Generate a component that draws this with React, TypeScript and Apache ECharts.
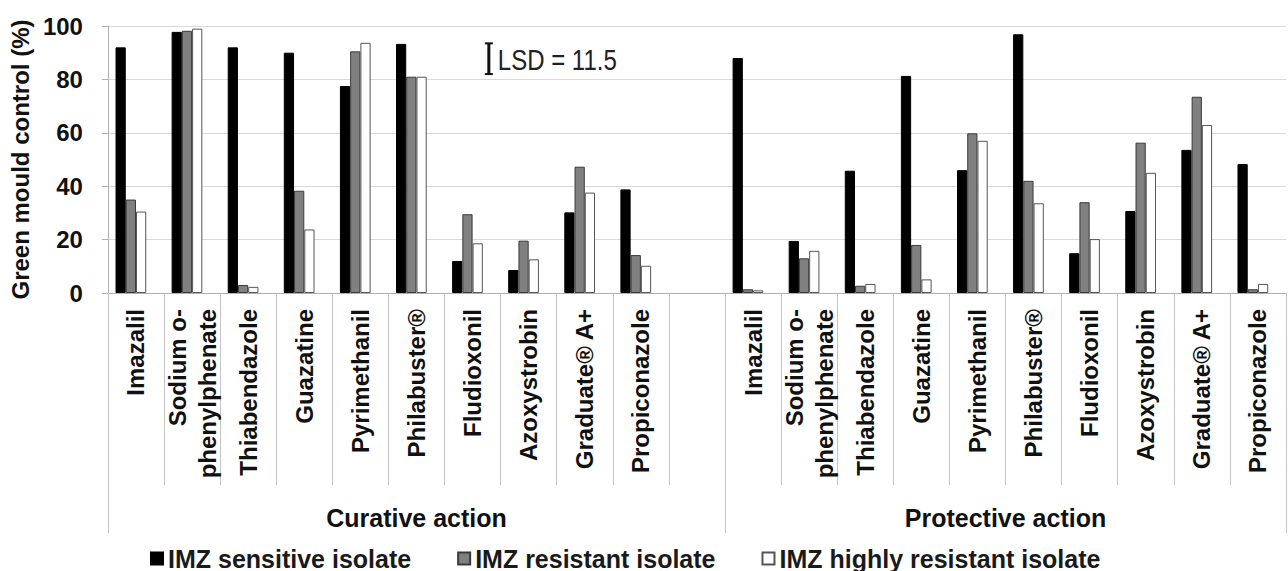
import React, { useEffect, useRef } from "react";
import * as echarts from "echarts";

const FONT = "'Liberation Sans', Arial, sans-serif";

const fungicides = [
  "Imazalil",
  "Sodium o-\nphenylphenate",
  "Thiabendazole",
  "Guazatine",
  "Pyrimethanil",
  "Philabuster®",
  "Fludioxonil",
  "Azoxystrobin",
  "Graduate® A+",
  "Propiconazole",
];

const groupNames = ["Curative action", "Protective action"];

// Curative action values
const curSensitive = [92, 97.8, 92, 90, 77.5, 93.3, 12, 8.6, 30.2, 38.8];
const curResistant = [35, 98.2, 3, 38.3, 90.5, 81, 29.5, 19.6, 47.3, 14.2];
const curHighly = [30.5, 99, 2.3, 23.8, 93.7, 81, 18.6, 12.6, 37.6, 10.2];

// Protective action values
const proSensitive = [88, 19.5, 45.8, 81.3, 46, 96.9, 14.9, 30.7, 53.6, 48.3];
const proResistant = [1.4, 13, 2.7, 18, 59.8, 42, 34, 56.3, 73.5, 1.4];
const proHighly = [1, 15.8, 3.4, 5.1, 57, 33.6, 20.2, 45, 62.9, 3.4];

const seriesNames = [
  "IMZ sensitive isolate",
  "IMZ resistant isolate",
  "IMZ highly resistant isolate",
];

const yTicks = [0, 20, 40, 60, 80, 100];

const lsdValue = 11.5;
const lsdBase = 82;
const lsdCategory = 6;

// categories: curative group (10 + 1 empty spacer), protective group (10)
const categories = [...fungicides, "", ...fungicides];
const groupSizes = [fungicides.length + 1, fungicides.length];

const withGap = (a: number[], b: number[]) => [...a, null, ...b];

export default function App() {
  const ref = useRef<HTMLDivElement>(null);

  useEffect(() => {
    if (!ref.current) return;
    const chart = echarts.init(ref.current, null, { renderer: "svg" });

    const groupBounds: number[] = [0];
    const groupCenters: number[] = [];
    let acc = 0;
    groupSizes.forEach((s) => {
      groupCenters.push(acc + s / 2);
      acc += s;
      groupBounds.push(acc);
    });

    const option: any = {
      animation: false,
      backgroundColor: "#fff",
      textStyle: { fontFamily: FONT },
      grid: { left: 107, right: 2, top: 26, bottom: 278, containLabel: false },
      legend: {
        data: seriesNames,
        left: 150,
        top: 546,
        padding: 0,
        itemWidth: 12,
        itemHeight: 12,
        itemGap: 46,
        icon: "rect",
        textStyle: {
          fontSize: 25,
          lineHeight: 24,
          fontWeight: "bold",
          color: "#1a1a1a",
          fontFamily: FONT,
        },
      },
      xAxis: [
        {
          type: "category",
          data: categories,
          boundaryGap: true,
          axisLine: { show: true, lineStyle: { color: "#b0b0b0", width: 1 } },
          axisTick: {
            show: true,
            interval: 0,
            length: 192,
            lineStyle: { color: "#c4c4c4", width: 1 },
          },
          axisLabel: {
            interval: 0,
            rotate: 90,
            margin: 16,
            fontSize: 24,
            fontWeight: "bold",
            color: "#111",
            lineHeight: 30,
            fontFamily: FONT,
          },
          splitLine: { show: false },
        },
        {
          type: "value",
          min: 0,
          max: categories.length,
          position: "bottom",
          axisLine: { show: false },
          splitLine: { show: false },
          axisTick: {
            show: true,
            customValues: groupBounds,
            length: 240,
            lineStyle: { color: "#c4c4c4", width: 1 },
          },
          axisLabel: {
            show: true,
            customValues: groupCenters,
            margin: 212,
            fontSize: 25,
            fontWeight: "bold",
            color: "#111",
            fontFamily: FONT,
            formatter: (v: number) => {
              const i = groupCenters.findIndex((c) => Math.abs(c - v) < 1e-6);
              return i >= 0 ? groupNames[i] : "";
            },
          },
        },
      ],
      yAxis: {
        type: "value",
        min: 0,
        max: 100,
        interval: 20,
        name: "Green mould control (%)",
        nameLocation: "middle",
        nameGap: 63,
        nameTextStyle: { fontSize: 24, fontWeight: "bold", color: "#111", fontFamily: FONT },
        axisLine: { show: true, lineStyle: { color: "#b0b0b0" } },
        axisTick: { show: true, length: 6, lineStyle: { color: "#b0b0b0" } },
        axisLabel: {
          margin: 25,
          fontSize: 24,
          fontWeight: "bold",
          color: "#111",
          fontFamily: FONT,
          customValues: yTicks,
        },
        splitLine: { show: true, lineStyle: { color: "#d9d9d9", width: 1 } },
      },
      series: [
        {
          name: seriesNames[0],
          type: "bar",
          data: withGap(curSensitive, proSensitive),
          barGap: "0%",
          barCategoryGap: "27%",
          itemStyle: { color: "#000", borderColor: "#000", borderWidth: 1 },
        },
        {
          name: seriesNames[1],
          type: "bar",
          data: withGap(curResistant, proResistant),
          barGap: "0%",
          barCategoryGap: "27%",
          itemStyle: { color: "#808080", borderColor: "#3a3a3a", borderWidth: 1 },
        },
        {
          name: seriesNames[2],
          type: "bar",
          data: withGap(curHighly, proHighly),
          barGap: "0%",
          barCategoryGap: "27%",
          itemStyle: { color: "#fff", borderColor: "#555", borderWidth: 1 },
        },
        {
          name: "spacer",
          type: "bar",
          data: categories.map(() => null),
          barGap: "0%",
          barCategoryGap: "27%",
          itemStyle: { color: "transparent" },
        },
        {
          name: "LSD",
          type: "custom",
          data: [[lsdCategory, lsdBase, lsdBase + lsdValue]],
          z: 10,
          renderItem: (params: any, api: any) => {
            const lo = api.coord([api.value(0), api.value(1)]);
            const hi = api.coord([api.value(0), api.value(2)]);
            const bw = api.size([1, 0])[0];
            const x = lo[0] + bw * 0.29;
            const cap = 4;
            return {
              type: "group",
              children: [
                {
                  type: "line",
                  shape: { x1: x, y1: lo[1], x2: x, y2: hi[1] },
                  style: { stroke: "#111", lineWidth: 3 },
                },
                {
                  type: "line",
                  shape: { x1: x - cap, y1: lo[1], x2: x + cap, y2: lo[1] },
                  style: { stroke: "#111", lineWidth: 2 },
                },
                {
                  type: "line",
                  shape: { x1: x - cap, y1: hi[1], x2: x + cap, y2: hi[1] },
                  style: { stroke: "#111", lineWidth: 2 },
                },
                {
                  type: "text",
                  x: x + 9,
                  y: (lo[1] + hi[1]) / 2 + 1,
                  scaleY: 1.25,
                  style: {
                    text: "LSD = " + lsdValue,
                    fontSize: 24,
                    fontFamily: FONT,
                    fill: "#222",
                    align: "left",
                    verticalAlign: "middle",
                  },
                },
              ],
            };
          },
        },
      ],
    };

    chart.setOption(option);
    return () => chart.dispose();
  }, []);

  return (
    <div
      ref={ref}
      style={{ position: "fixed", left: 0, top: 0, width: 1288, height: 571, background: "#fff" }}
    />
  );
}
